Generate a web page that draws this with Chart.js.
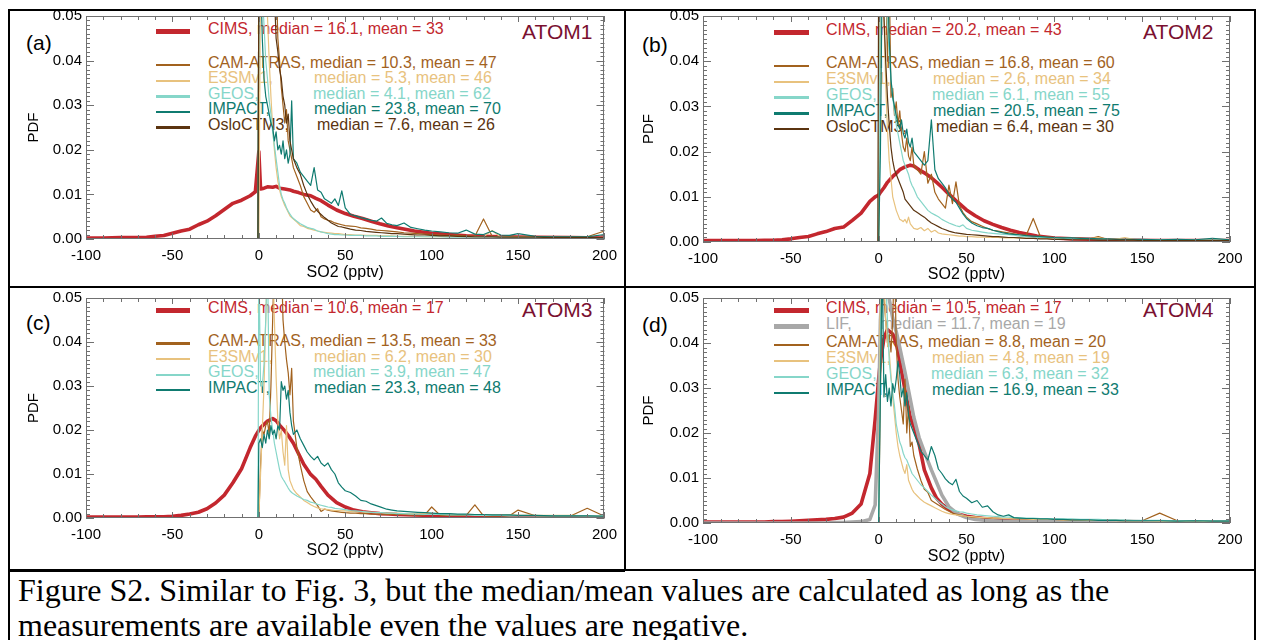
<!DOCTYPE html>
<html><head><meta charset="utf-8">
<script src="https://cdn.jsdelivr.net/npm/chart.js@4.4.1/dist/chart.umd.min.js"></script>
<style>
html,body{margin:0;padding:0;background:#fff;}
body{width:1263px;height:640px;position:relative;overflow:hidden;font-family:'Liberation Sans',Arial,sans-serif;}
.panel{position:absolute;z-index:2;}
.panel canvas{display:block;}
.lg{position:absolute;font-size:16px;line-height:18px;white-space:nowrap;z-index:1;}
.smp{position:absolute;z-index:1;}
.tag{position:absolute;font-size:21px;line-height:24px;color:#000;z-index:1;}
.atom{position:absolute;font-size:21px;line-height:24px;color:#7a1030;z-index:1;}
.fr{position:absolute;background:#000;z-index:3;}
#cap{position:absolute;left:18px;top:573px;font-family:'Liberation Serif','Times New Roman',serif;font-size:32px;line-height:35px;color:#000;white-space:nowrap;}
</style></head><body>
<div class="fr" style="left:8px;top:9px;width:1248px;height:2px"></div>
<div class="fr" style="left:8px;top:9px;width:2px;height:631px"></div>
<div class="fr" style="left:1254px;top:9px;width:2px;height:631px"></div>
<div class="fr" style="left:624px;top:9px;width:2px;height:562px"></div>
<div class="fr" style="left:8px;top:286px;width:1248px;height:2px"></div>
<div class="fr" style="left:8px;top:569px;width:617px;height:3px"></div>
<div class="fr" style="left:624px;top:569px;width:632px;height:2px"></div>
<div id="cap">Figure S2. Similar to Fig. 3, but the median/mean values are calculated as long as the<br>measurements are available even the values are negative.</div>
<script>
// ---------- x grids ----------
const X_OBS = [-100,-90,-80,-70,-65,-60,-55,-50,-45,-40,-35,-30,-25,-20,-15,-10,-5,-2,
  0,1,3,5,8,10,12,15,18,20,
  23,26,30,33,36,40,45,50,
  55,60,65,70,75,80,
  90,100,110,120,
  140,160,180,200];
const X_MODEL = [-100,-0.5,
  0,1,2,3,4,5,6,7,8,9,10,11,12,13,14,15,16,17,18,19,20,
  22,24,26,28,30,32,34,36,38,40,42,44,46,48,50,
  53,56,59,62,65,68,71,74,77,80,84,88,92,96,100,
  105,110,115,120,125,130,135,140,145,150,160,170,180,190,200];

// ---------- panel (a) ATOM1 ----------
const A_CIMS = [0.0002,0.0002,0.0003,0.0003,0.0004,0.0006,0.0008,0.0013,0.0018,0.0022,0.0032,0.0040,0.0052,0.0066,0.0080,0.0087,0.0097,0.0106,
  0.0196,0.0112,0.0114,0.0117,0.0116,0.0118,0.0114,0.0112,0.0110,0.0107,
  0.0104,0.0100,0.0097,0.0091,0.0086,0.0076,0.0065,0.0057,
  0.0051,0.0046,0.0040,0.0034,0.0029,0.0025,
  0.0018,0.0013,0.0010,0.0007,
  0.0005,0.0004,0.0003,0.0002];
const A_CAM = [0,0,
  0.0600,0.0600,0.0600,0.0600,0.0600,0.0600,0.0600,0.0600,0.0600,0.0550,0.0600,0.0450,0.0400,0.0340,0.0300,0.0260,0.0290,0.0220,0.0200,0.0180,0.0160,
  0.0140,0.0120,0.0095,0.0080,0.0065,0.0060,0.0068,0.0050,0.0045,0.0042,0.0040,0.0036,0.0034,0.0032,0.0030,
  0.0029,0.0028,0.0025,0.0024,0.0022,0.0020,0.0019,0.0018,0.0017,0.0016,0.0014,0.0013,0.0012,0.0011,0.0010,
  0.0009,0.0008,0.0008,0.0007,0.0006,0.0045,0.0006,0.0005,0.0005,0.0005,0.0004,0.0004,0.0004,0.0005,0.0018];
const A_E3SM = [0,0,
  0.0000,0.0600,0.0600,0.0600,0.0600,0.0500,0.0400,0.0320,0.0250,0.0200,0.0160,0.0130,0.0110,0.0095,0.0085,0.0075,0.0068,0.0060,0.0052,0.0048,0.0045,
  0.0038,0.0030,0.0028,0.0024,0.0022,0.0020,0.0018,0.0016,0.0015,0.0014,0.0013,0.0012,0.0012,0.0011,0.0010,
  0.0010,0.0009,0.0009,0.0008,0.0008,0.0008,0.0007,0.0007,0.0007,0.0006,0.0006,0.0006,0.0006,0.0005,0.0005,
  0.0005,0.0005,0.0005,0.0005,0.0005,0.0005,0.0019,0.0004,0.0004,0.0004,0.0004,0.0003,0.0003,0.0003,0.0003];
const A_GEOS = [0,0,
  0.0600,0.0600,0.0550,0.0480,0.0400,0.0360,0.0310,0.0280,0.0240,0.0210,0.0180,0.0150,0.0120,0.0100,0.0088,0.0080,0.0070,0.0062,0.0056,0.0050,0.0046,
  0.0040,0.0034,0.0030,0.0026,0.0024,0.0022,0.0018,0.0016,0.0014,0.0012,0.0011,0.0010,0.0010,0.0009,0.0009,
  0.0008,0.0008,0.0008,0.0007,0.0007,0.0007,0.0006,0.0006,0.0006,0.0006,0.0005,0.0005,0.0005,0.0005,0.0005,
  0.0005,0.0004,0.0004,0.0004,0.0004,0.0004,0.0004,0.0004,0.0003,0.0003,0.0003,0.0003,0.0003,0.0003,0.0003];
const A_IMPACT = [0,0,
  0.0600,0.0600,0.0450,0.0360,0.0320,0.0300,0.0280,0.0260,0.0250,0.0220,0.0240,0.0200,0.0210,0.0190,0.0220,0.0180,0.0200,0.0170,0.0190,0.0310,0.0180,
  0.0170,0.0150,0.0140,0.0130,0.0120,0.0160,0.0110,0.0105,0.0090,0.0085,0.0080,0.0090,0.0075,0.0108,0.0070,
  0.0055,0.0052,0.0048,0.0045,0.0042,0.0040,0.0047,0.0035,0.0032,0.0030,0.0036,0.0026,0.0023,0.0020,0.0018,
  0.0016,0.0014,0.0013,0.0020,0.0011,0.0010,0.0018,0.0009,0.0008,0.0012,0.0006,0.0005,0.0005,0.0005,0.0010];
const A_OSLO = [0,0,
  0.0600,0.0600,0.0600,0.0600,0.0600,0.0600,0.0600,0.0600,0.0600,0.0550,0.0450,0.0420,0.0380,0.0360,0.0320,0.0300,0.0260,0.0280,0.0220,0.0200,0.0180,
  0.0160,0.0145,0.0120,0.0100,0.0085,0.0072,0.0062,0.0055,0.0048,0.0042,0.0036,0.0032,0.0028,0.0027,0.0025,
  0.0022,0.0020,0.0019,0.0017,0.0016,0.0015,0.0014,0.0013,0.0012,0.0012,0.0011,0.0010,0.0009,0.0009,0.0008,
  0.0007,0.0007,0.0006,0.0006,0.0005,0.0005,0.0005,0.0004,0.0004,0.0004,0.0004,0.0003,0.0003,0.0003,0.0003];
const A_NAMES = ['CIMS','CAM-ATRAS','E3SMv1','GEOS','IMPACT','OsloCTM3'];
const A_MEDIAN = [16.1,10.3,5.3,4.1,23.8,7.6];
const A_MEAN = [33,47,46,62,70,26];

// ---------- panel (b) ATOM2 ----------
const B_CIMS = [0.0003,0.0003,0.0003,0.0003,0.0004,0.0004,0.0005,0.0007,0.0010,0.0012,0.0018,0.0023,0.0030,0.0033,0.0048,0.0064,0.0090,0.0100,
  0.0104,0.0110,0.0120,0.0132,0.0145,0.0152,0.0160,0.0166,0.0170,0.0168,
  0.0160,0.0153,0.0142,0.0132,0.0121,0.0106,0.0088,0.0071,
  0.0058,0.0047,0.0039,0.0032,0.0026,0.0021,
  0.0013,0.0009,0.0007,0.0006,
  0.0004,0.0003,0.0003,0.0003];
const B_CAM = [0,0,
  0.0000,0.0600,0.0600,0.0600,0.0600,0.0400,0.0600,0.0320,0.0340,0.0280,0.0310,0.0260,0.0290,0.0240,0.0210,0.0200,0.0230,0.0190,0.0180,0.0210,0.0170,
  0.0160,0.0150,0.0200,0.0130,0.0150,0.0110,0.0095,0.0085,0.0075,0.0126,0.0085,0.0133,0.0080,0.0065,0.0055,
  0.0045,0.0040,0.0035,0.0030,0.0026,0.0024,0.0022,0.0020,0.0018,0.0016,0.0015,0.0052,0.0012,0.0011,0.0010,
  0.0009,0.0008,0.0008,0.0007,0.0012,0.0006,0.0006,0.0005,0.0005,0.0005,0.0004,0.0004,0.0004,0.0004,0.0004];
const B_E3SM = [0,0,
  0.0000,0.0600,0.0600,0.0500,0.0350,0.0250,0.0180,0.0140,0.0100,0.0085,0.0070,0.0060,0.0050,0.0048,0.0045,0.0050,0.0042,0.0055,0.0040,0.0035,0.0030,
  0.0028,0.0032,0.0025,0.0030,0.0022,0.0026,0.0020,0.0018,0.0017,0.0016,0.0015,0.0014,0.0013,0.0013,0.0012,
  0.0012,0.0011,0.0011,0.0010,0.0010,0.0010,0.0009,0.0009,0.0009,0.0009,0.0008,0.0008,0.0008,0.0008,0.0008,
  0.0007,0.0007,0.0007,0.0007,0.0010,0.0006,0.0006,0.0010,0.0006,0.0005,0.0005,0.0005,0.0004,0.0004,0.0004];
const B_GEOS = [0,0,
  0.0000,0.0600,0.0600,0.0600,0.0550,0.0480,0.0420,0.0360,0.0320,0.0290,0.0260,0.0240,0.0220,0.0200,0.0180,0.0170,0.0160,0.0150,0.0135,0.0125,0.0118,
  0.0100,0.0090,0.0080,0.0070,0.0064,0.0060,0.0056,0.0050,0.0046,0.0042,0.0039,0.0036,0.0034,0.0038,0.0030,
  0.0026,0.0024,0.0022,0.0020,0.0019,0.0018,0.0017,0.0016,0.0015,0.0013,0.0012,0.0011,0.0010,0.0010,0.0009,
  0.0008,0.0008,0.0007,0.0007,0.0006,0.0006,0.0006,0.0005,0.0005,0.0005,0.0005,0.0004,0.0004,0.0004,0.0004];
const B_IMPACT = [0,0,
  0.0000,0.0200,0.0600,0.0600,0.0600,0.0600,0.0450,0.0360,0.0320,0.0300,0.0280,0.0260,0.0250,0.0270,0.0240,0.0230,0.0250,0.0220,0.0210,0.0230,0.0200,
  0.0190,0.0180,0.0170,0.0180,0.0270,0.0160,0.0140,0.0130,0.0120,0.0105,0.0095,0.0088,0.0075,0.0062,0.0052,
  0.0042,0.0036,0.0032,0.0030,0.0026,0.0023,0.0020,0.0018,0.0017,0.0016,0.0014,0.0013,0.0012,0.0011,0.0010,
  0.0009,0.0009,0.0008,0.0008,0.0007,0.0007,0.0006,0.0006,0.0006,0.0006,0.0005,0.0006,0.0005,0.0008,0.0005];
const B_OSLO = [0,0,
  0.0600,0.0600,0.0600,0.0500,0.0400,0.0320,0.0260,0.0210,0.0180,0.0160,0.0150,0.0140,0.0130,0.0120,0.0110,0.0095,0.0090,0.0085,0.0080,0.0075,0.0070,
  0.0065,0.0060,0.0055,0.0048,0.0042,0.0038,0.0034,0.0030,0.0027,0.0024,0.0022,0.0020,0.0019,0.0018,0.0017,
  0.0016,0.0015,0.0014,0.0013,0.0012,0.0012,0.0011,0.0010,0.0010,0.0009,0.0008,0.0008,0.0007,0.0007,0.0006,
  0.0006,0.0005,0.0005,0.0005,0.0004,0.0004,0.0004,0.0004,0.0004,0.0003,0.0003,0.0003,0.0003,0.0003,0.0003];
const B_NAMES = ['CIMS','CAM-ATRAS','E3SMv1','GEOS','IMPACT','OsloCTM3'];
const B_MEDIAN = [20.2,16.8,2.6,6.1,20.5,6.4];
const B_MEAN = [43,60,34,55,75,30];

// ---------- panel (c) ATOM3 ----------
const C_CIMS = [0.0002,0.0002,0.0002,0.0002,0.0003,0.0003,0.0003,0.0004,0.0006,0.0009,0.0013,0.0021,0.0034,0.0052,0.0080,0.0112,0.0160,0.0186,
  0.0199,0.0205,0.0213,0.0220,0.0226,0.0221,0.0211,0.0198,0.0182,0.0170,
  0.0146,0.0122,0.0099,0.0088,0.0072,0.0052,0.0035,0.0025,
  0.0018,0.0014,0.0012,0.0010,0.0009,0.0008,
  0.0007,0.0006,0.0005,0.0004,
  0.0003,0.0003,0.0002,0.0002];
const C_CAM = [0,0,
  0.0000,0.0120,0.0200,0.0190,0.0210,0.0220,0.0190,0.0300,0.0450,0.0600,0.0600,0.0600,0.0600,0.0600,0.0450,0.0400,0.0360,0.0330,0.0280,0.0340,0.0220,
  0.0160,0.0120,0.0085,0.0060,0.0048,0.0038,0.0028,0.0015,0.0020,0.0018,0.0016,0.0015,0.0014,0.0013,0.0012,
  0.0011,0.0011,0.0010,0.0010,0.0009,0.0009,0.0009,0.0008,0.0008,0.0008,0.0008,0.0007,0.0007,0.0007,0.0025,
  0.0006,0.0006,0.0006,0.0006,0.0030,0.0005,0.0005,0.0005,0.0005,0.0018,0.0005,0.0004,0.0004,0.0022,0.0004];
const C_E3SM = [0,0,
  0.0000,0.0100,0.0200,0.0300,0.0450,0.0600,0.0600,0.0600,0.0600,0.0450,0.0320,0.0220,0.0180,0.0200,0.0150,0.0120,0.0210,0.0110,0.0085,0.0075,0.0065,
  0.0055,0.0048,0.0040,0.0035,0.0030,0.0026,0.0023,0.0021,0.0020,0.0019,0.0018,0.0017,0.0017,0.0016,0.0016,
  0.0015,0.0014,0.0014,0.0013,0.0013,0.0012,0.0012,0.0011,0.0011,0.0011,0.0010,0.0010,0.0010,0.0010,0.0010,
  0.0009,0.0009,0.0008,0.0008,0.0008,0.0007,0.0007,0.0007,0.0007,0.0006,0.0006,0.0006,0.0006,0.0005,0.0005];
const C_GEOS = [0,0,
  0.0600,0.0300,0.0300,0.0350,0.0450,0.0600,0.0280,0.0230,0.0200,0.0170,0.0150,0.0130,0.0110,0.0095,0.0088,0.0082,0.0075,0.0068,0.0062,0.0058,0.0055,
  0.0050,0.0046,0.0042,0.0040,0.0036,0.0034,0.0031,0.0029,0.0027,0.0025,0.0024,0.0022,0.0021,0.0020,0.0019,
  0.0017,0.0016,0.0015,0.0014,0.0013,0.0012,0.0012,0.0011,0.0011,0.0010,0.0010,0.0009,0.0009,0.0008,0.0008,
  0.0008,0.0007,0.0007,0.0007,0.0006,0.0006,0.0006,0.0006,0.0005,0.0005,0.0005,0.0005,0.0005,0.0005,0.0005];
const C_IMPACT = [0,0,
  0.0170,0.0180,0.0160,0.0190,0.0170,0.0200,0.0180,0.0210,0.0190,0.0200,0.0180,0.0210,0.0200,0.0310,0.0290,0.0300,0.0270,0.0290,0.0240,0.0210,0.0190,
  0.0200,0.0180,0.0165,0.0150,0.0140,0.0132,0.0140,0.0125,0.0118,0.0125,0.0110,0.0100,0.0080,0.0070,0.0062,
  0.0058,0.0050,0.0040,0.0038,0.0032,0.0028,0.0024,0.0020,0.0018,0.0016,0.0015,0.0014,0.0013,0.0012,0.0011,
  0.0010,0.0010,0.0009,0.0009,0.0008,0.0008,0.0007,0.0007,0.0007,0.0006,0.0006,0.0005,0.0005,0.0005,0.0004];
const C_NAMES = ['CIMS','CAM-ATRAS','E3SMv1','GEOS','IMPACT'];
const C_MEDIAN = [10.6,13.5,6.2,3.9,23.3];
const C_MEAN = [17,33,30,47,48];

// ---------- panel (d) ATOM4 ----------
const D_CIMS = [0.0002,0.0002,0.0002,0.0002,0.0002,0.0003,0.0003,0.0004,0.0005,0.0006,0.0007,0.0008,0.0010,0.0013,0.0022,0.0042,0.0110,0.0230,
  0.0320,0.0360,0.0410,0.0430,0.0420,0.0400,0.0360,0.0295,0.0235,0.0215,
  0.0175,0.0118,0.0078,0.0055,0.0042,0.0030,0.0020,0.0015,
  0.0012,0.0010,0.0008,0.0007,0.0006,0.0005,
  0.0004,0.0004,0.0003,0.0003,
  0.0003,0.0002,0.0002,0.0002];
const D_LIF = [0,0,0,0,0,0,0,0,0,0,0,0,0.0001,0.0001,0.0002,0.0003,0.0008,0.0040,
  0.0250,0.0450,0.0600,0.0520,0.0455,0.0425,0.0390,0.0335,0.0275,0.0235,
  0.0190,0.0158,0.0118,0.0090,0.0062,0.0036,0.0020,0.0012,
  0.0008,0.0006,0.0005,0.0004,0.0004,0.0003,
  0.0003,0.0003,0.0002,0.0002,
  0.0002,0.0002,0.0002,0.0002];
const D_CAM = [0,0,
  0.0000,0.0300,0.0600,0.0500,0.0450,0.0400,0.0420,0.0380,0.0450,0.0600,0.0400,0.0320,0.0280,0.0250,0.0220,0.0320,0.0200,0.0260,0.0170,0.0180,0.0150,
  0.0120,0.0095,0.0075,0.0068,0.0050,0.0045,0.0040,0.0035,0.0030,0.0026,0.0022,0.0020,0.0018,0.0016,0.0015,
  0.0013,0.0013,0.0012,0.0012,0.0011,0.0011,0.0010,0.0010,0.0010,0.0009,0.0009,0.0009,0.0008,0.0008,0.0008,
  0.0007,0.0007,0.0007,0.0006,0.0006,0.0006,0.0006,0.0005,0.0005,0.0005,0.0022,0.0005,0.0004,0.0004,0.0004];
const D_E3SM = [0,0,
  0.0000,0.0600,0.0600,0.0550,0.0450,0.0400,0.0380,0.0330,0.0280,0.0240,0.0200,0.0170,0.0150,0.0135,0.0120,0.0110,0.0130,0.0095,0.0085,0.0075,0.0068,
  0.0060,0.0052,0.0046,0.0042,0.0038,0.0034,0.0030,0.0026,0.0023,0.0021,0.0019,0.0018,0.0017,0.0016,0.0015,
  0.0014,0.0013,0.0012,0.0012,0.0011,0.0011,0.0010,0.0010,0.0009,0.0009,0.0009,0.0008,0.0008,0.0008,0.0008,
  0.0007,0.0007,0.0007,0.0006,0.0006,0.0006,0.0005,0.0005,0.0005,0.0005,0.0004,0.0004,0.0004,0.0003,0.0003];
const D_GEOS = [0,0,
  0.0000,0.0400,0.0600,0.0600,0.0550,0.0450,0.0360,0.0320,0.0290,0.0260,0.0220,0.0200,0.0180,0.0170,0.0155,0.0145,0.0140,0.0130,0.0120,0.0110,0.0105,
  0.0095,0.0085,0.0078,0.0070,0.0062,0.0055,0.0048,0.0042,0.0036,0.0032,0.0029,0.0027,0.0025,0.0024,0.0022,
  0.0020,0.0018,0.0017,0.0016,0.0015,0.0014,0.0013,0.0013,0.0012,0.0012,0.0011,0.0011,0.0010,0.0010,0.0010,
  0.0009,0.0009,0.0008,0.0008,0.0008,0.0007,0.0007,0.0007,0.0006,0.0006,0.0006,0.0005,0.0005,0.0005,0.0005];
const D_IMPACT = [0,0,
  0.0000,0.0300,0.0600,0.0280,0.0330,0.0270,0.0300,0.0260,0.0310,0.0290,0.0320,0.0360,0.0330,0.0280,0.0300,0.0260,0.0290,0.0240,0.0220,0.0210,0.0200,
  0.0180,0.0160,0.0150,0.0140,0.0170,0.0150,0.0120,0.0110,0.0098,0.0090,0.0085,0.0097,0.0070,0.0060,0.0055,
  0.0045,0.0050,0.0035,0.0038,0.0025,0.0018,0.0015,0.0018,0.0012,0.0011,0.0010,0.0010,0.0009,0.0009,0.0008,
  0.0008,0.0007,0.0007,0.0007,0.0006,0.0006,0.0006,0.0005,0.0005,0.0005,0.0005,0.0004,0.0005,0.0004,0.0004];
const D_NAMES = ['CIMS','LIF','CAM-ATRAS','E3SMv1','GEOS','IMPACT'];
const D_MEDIAN = [10.5,11.7,8.8,4.8,6.3,16.9];
const D_MEAN = [17,19,20,19,32,33];

// ---------- axis ticks ----------
const X_TICKS = [-100,-50,0,50,100,150,200];
const Y_TICKS = [0,0.01,0.02,0.03,0.04,0.05];

// ---------- styles ----------
const FONT = "'Liberation Sans', Arial, Helvetica, sans-serif";
const COLOR = {'CIMS':'#c3272e','LIF':'#a8a8a8','CAM-ATRAS':'#a2621e','E3SMv1':'#e8c27e','GEOS':'#86d6c9','IMPACT':'#0f7b70','OsloCTM3':'#5b3410'};
const LINEW = {'CIMS':3.6,'LIF':3.6,'CAM-ATRAS':1.2,'E3SMv1':1.2,'GEOS':1.2,'IMPACT':1.2,'OsloCTM3':1.2};
const SAMPLEW = {'CIMS':5,'LIF':5,'CAM-ATRAS':2.5,'E3SMv1':2.5,'GEOS':2.5,'IMPACT':2.5,'OsloCTM3':2.5};
const ORDER = {'CIMS':9,'LIF':8,'CAM-ATRAS':5,'E3SMv1':4,'GEOS':3,'IMPACT':2,'OsloCTM3':1};

const PANELS = [
  {tag:'(a)', atom:'ATOM1', left:0, top:0, w:625, h:285, yW:86, padTop:16, padRight:16, xH:46, xTitlePad:3, yTitlePad:25,
   names:A_NAMES, med:A_MEDIAN, mean:A_MEAN,
   series:[X_OBS,A_CIMS, X_MODEL,A_CAM, X_MODEL,A_E3SM, X_MODEL,A_GEOS, X_MODEL,A_IMPACT, X_MODEL,A_OSLO],
   smp:[156,190], textX:208, statsX:[null,null,314,313,314,317], rowY:[29.3,62.7,78.3,94,109.3,125],
   tagPos:[26,43.3], atomPos:[522,31.7]},
  {tag:'(b)', atom:'ATOM2', left:625, top:0, w:638, h:285, yW:78, padTop:16, padRight:33, xH:43, xTitlePad:1, yTitlePad:15,
   names:B_NAMES, med:B_MEDIAN, mean:B_MEAN,
   series:[X_OBS,B_CIMS, X_MODEL,B_CAM, X_MODEL,B_E3SM, X_MODEL,B_GEOS, X_MODEL,B_IMPACT, X_MODEL,B_OSLO],
   smp:[774,809], textX:826, statsX:[null,null,933,932,933,936], rowY:[30,63.3,79.3,95,111,126.7],
   tagPos:[642,45], atomPos:[1143,32.3]},
  {tag:'(c)', atom:'ATOM3', left:0, top:285, w:625, h:283, yW:86, padTop:10, padRight:16, xH:50, xTitlePad:8, yTitlePad:25,
   names:C_NAMES, med:C_MEDIAN, mean:C_MEAN,
   series:[X_OBS,C_CIMS, X_MODEL,C_CAM, X_MODEL,C_E3SM, X_MODEL,C_GEOS, X_MODEL,C_IMPACT],
   smp:[156,190], textX:208, statsX:[null,null,314,313,314], rowY:[307.7,341,356.7,372.3,387.7],
   tagPos:[26,323.3], atomPos:[522,310]},
  {tag:'(d)', atom:'ATOM4', left:625, top:285, w:638, h:283, yW:78, padTop:10, padRight:33, xH:45, xTitlePad:2, yTitlePad:15,
   names:D_NAMES, med:D_MEDIAN, mean:D_MEAN,
   series:[X_OBS,D_CIMS, X_OBS,D_LIF, X_MODEL,D_CAM, X_MODEL,D_E3SM, X_MODEL,D_GEOS, X_MODEL,D_IMPACT],
   smp:[774,809], textX:826, statsX:[null,880,null,932,931,932], rowY:[307.7,324,342.3,358.3,374.3,390.3],
   tagPos:[642,325], atomPos:[1143,310]}
];

const frameTicks = {
  id:'frameTicks',
  afterDatasetsDraw(chart){
    const {ctx, chartArea:a, scales:{x,y}} = chart;
    ctx.save();
    ctx.strokeStyle = '#707070'; ctx.lineWidth = 1;
    ctx.beginPath();
    for (let v = -100; v <= 200; v += 10) {
      const px = Math.round(x.getPixelForValue(v)) + 0.5;
      const len = (v % 50 === 0) ? 6 : 4;
      ctx.moveTo(px, a.bottom); ctx.lineTo(px, a.bottom - len);
      ctx.moveTo(px, a.top); ctx.lineTo(px, a.top + len);
    }
    for (let i = 0; i <= 50; i++) {
      const py = Math.round(y.getPixelForValue(i / 1000)) + 0.5;
      const len = (i % 10 === 0) ? 8 : 4;
      ctx.moveTo(a.left, py); ctx.lineTo(a.left + len, py);
      ctx.moveTo(a.right, py); ctx.lineTo(a.right - len, py);
    }
    ctx.stroke();
    ctx.strokeRect(Math.round(a.left) + 0.5, Math.round(a.top) + 0.5, Math.round(a.width) - 1, Math.round(a.height) - 1);
    ctx.restore();
  }
};

function addDiv(cls, left, top, text, color, extra) {
  const d = document.createElement('div');
  d.className = cls;
  d.style.left = left + 'px';
  d.style.top = top + 'px';
  if (color) d.style.color = color;
  if (extra) Object.assign(d.style, extra);
  d.textContent = text;
  document.body.appendChild(d);
  return d;
}

PANELS.forEach(P => {
  // legend
  P.names.forEach((name, i) => {
    const yc = P.rowY[i];
    const sw = SAMPLEW[name];
    const s = document.createElement('div');
    s.className = 'smp';
    Object.assign(s.style, {left:P.smp[0]+'px', width:(P.smp[1]-P.smp[0])+'px', top:(yc + 2.5 - sw/2)+'px', height:sw+'px', background:COLOR[name]});
    document.body.appendChild(s);
    const stats = 'median = ' + P.med[i].toFixed(1) + ', mean = ' + P.mean[i];
    if (P.statsX[i] == null) {
      addDiv('lg', P.textX, yc - 9, name + ', ' + stats, COLOR[name]);
    } else {
      addDiv('lg', P.textX, yc - 9, name + ',', COLOR[name]);
      addDiv('lg', P.statsX[i], yc - 9, stats, COLOR[name]);
    }
  });
  addDiv('tag', P.tagPos[0], P.tagPos[1] - 12, P.tag);
  addDiv('atom', P.atomPos[0], P.atomPos[1] - 12, P.atom);

  // chart
  const wrap = document.createElement('div');
  wrap.className = 'panel';
  Object.assign(wrap.style, {left:P.left+'px', top:P.top+'px', width:P.w+'px', height:P.h+'px'});
  const cv = document.createElement('canvas');
  wrap.appendChild(cv);
  document.body.appendChild(wrap);

  const datasets = [];
  for (let k = 0; k < P.series.length; k += 2) {
    const xs = P.series[k], ys = P.series[k+1];
    const name = P.names[k/2];
    if (xs.length !== ys.length) throw new Error(P.atom + ' ' + name + ' length ' + ys.length + ' vs ' + xs.length);
    datasets.push({
      label: name,
      data: xs.map((xv, j) => ({x: xv, y: ys[j]})),
      borderColor: COLOR[name], backgroundColor: COLOR[name],
      borderWidth: LINEW[name], pointRadius: 0, fill: false, tension: 0,
      borderJoinStyle: 'round', order: ORDER[name]
    });
  }
  new Chart(cv, {
    type: 'line',
    data: {datasets},
    plugins: [frameTicks],
    options: {
      responsive: true, maintainAspectRatio: false, animation: false, devicePixelRatio: 1,
      layout: {padding: {left: 0, top: P.padTop, right: P.padRight, bottom: 0}},
      plugins: {legend: {display: false}, tooltip: {enabled: false}},
      scales: {
        x: {
          type: 'linear', min: -100, max: 200,
          afterFit: s => { s.height = P.xH; },
          afterBuildTicks: s => { s.ticks = X_TICKS.map(v => ({value: v})); },
          grid: {display: false, drawTicks: false}, border: {display: false},
          ticks: {padding: 8, color: '#000', font: {family: FONT, size: 15}, maxRotation: 0, autoSkip: false},
          title: {display: true, text: 'SO2 (pptv)', color: '#000', font: {family: FONT, size: 16}, padding: {top: 0, bottom: P.xTitlePad}}
        },
        y: {
          type: 'linear', min: 0, max: 0.05,
          afterFit: s => { s.width = P.yW; },
          afterBuildTicks: s => { s.ticks = Y_TICKS.map(v => ({value: v})); },
          grid: {display: false, drawTicks: false}, border: {display: false},
          ticks: {padding: 4, color: '#000', font: {family: FONT, size: 15}, callback: v => Number(v).toFixed(2)},
          title: {display: true, text: 'PDF', color: '#000', font: {family: FONT, size: 15}, padding: {top: P.yTitlePad, bottom: 0}}
        }
      }
    }
  });
});
</script>
</body></html>
